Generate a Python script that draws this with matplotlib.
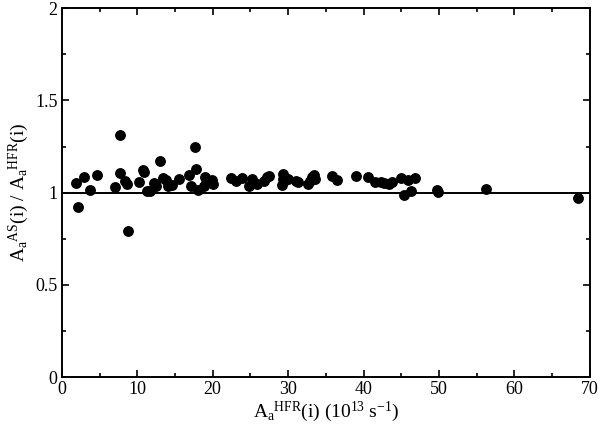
import matplotlib
matplotlib.use("Agg")
import matplotlib.pyplot as plt
from matplotlib.ticker import MultipleLocator

plt.rcParams['font.family'] = ['Liberation Serif', 'DejaVu Serif']
plt.rcParams['mathtext.fontset'] = 'custom'
plt.rcParams['mathtext.rm'] = 'Liberation Serif'
plt.rcParams['mathtext.it'] = 'Liberation Serif:italic'

# HFR rates (10^13 s^-1) and AS/HFR ratios
rate_hfr = [1.87, 2.13, 2.94, 3.75, 4.71, 7.09, 7.70, 7.65, 8.36, 8.71, 8.76,
            10.28, 10.79, 10.89, 11.30, 11.70, 12.21, 12.51, 12.97, 13.37,
            13.88, 14.08, 14.64, 15.60, 16.92, 17.12, 17.68, 17.73, 18.09,
            19.00, 18.90, 19.15, 19.91, 20.01, 22.39, 23.15, 23.86, 24.77,
            25.18, 25.38, 25.84, 26.80, 27.20, 27.41, 29.28, 29.33, 29.23,
            29.48, 29.99, 31.00, 31.26, 32.67, 32.88, 33.18, 33.38, 33.54,
            35.82, 36.47, 39.06, 40.58, 41.49, 42.30, 42.76, 43.42, 43.82,
            44.93, 45.95, 46.86, 45.34, 46.25, 49.80, 49.85, 56.23, 68.39]
ratio = [1.052, 0.924, 1.083, 1.016, 1.096, 1.029, 1.313, 1.109, 1.063, 1.047,
         0.790, 1.060, 1.121, 1.110, 1.011, 1.007, 1.051, 1.036, 1.174, 1.078,
         1.069, 1.036, 1.043, 1.072, 1.098, 1.034, 1.246, 1.129, 1.016, 1.083,
         1.036, 1.054, 1.071, 1.047, 1.080, 1.065, 1.080, 1.034, 1.076, 1.051,
         1.045, 1.063, 1.083, 1.089, 1.101, 1.076, 1.043, 1.065, 1.076, 1.065,
         1.060, 1.047, 1.065, 1.083, 1.096, 1.074, 1.091, 1.069, 1.091, 1.083,
         1.060, 1.056, 1.052, 1.047, 1.056, 1.078, 1.071, 1.080, 0.989, 1.007,
         1.014, 1.004, 1.020, 0.973]

fig = plt.figure(figsize=(6, 4.3), dpi=100)
ax = fig.add_axes([0.103, 0.123, 0.88, 0.858])

ax.axhline(1.0, color='black', linewidth=1.4, zorder=1)
ax.plot(rate_hfr, ratio, 'o', color='black', markersize=6.8, zorder=2)

ax.set_xlim(0, 70)
ax.set_ylim(0, 2)
ax.xaxis.set_major_locator(MultipleLocator(10))
ax.xaxis.set_minor_locator(MultipleLocator(5))
ax.yaxis.set_minor_locator(MultipleLocator(0.25))
ax.set_yticks([0, 0.5, 1, 1.5, 2])
ax.set_yticklabels(['0', '0.5', '1', '1.5', '2'])

ax.tick_params(which='both', direction='in', top=True, right=True,
               labelsize=13, width=1.2)
ax.tick_params(which='major', length=5, pad=3)
ax.tick_params(which='minor', length=3)
for s in ax.spines.values():
    s.set_linewidth(1.4)

ax.set_xlabel(r'$\mathrm{A_a{}^{HFR}(i)\ (10^{13}\ s^{-1})}$', fontsize=14, labelpad=1)
ax.set_ylabel(r'$\mathrm{A_a{}^{AS}(i)\ /\ A_a{}^{HFR}(i)}$', fontsize=14, labelpad=3)

fig.savefig('out.png', dpi=100)
